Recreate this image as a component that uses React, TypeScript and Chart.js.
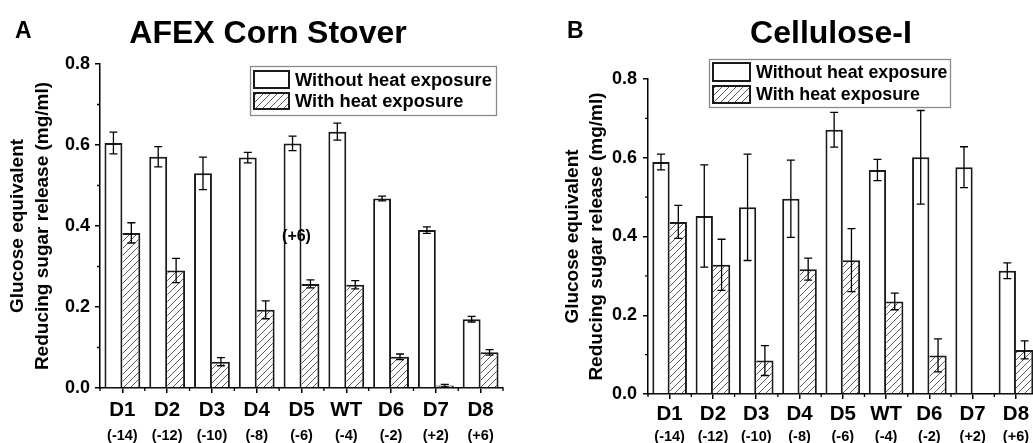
import React, { useEffect, useRef } from 'react';
import { Chart, registerables } from 'chart.js';

Chart.register(...registerables);

const FONT = '"Liberation Sans", Arial, Helvetica, sans-serif';

// ---------------- data ----------------
const categories = ['D1', 'D2', 'D3', 'D4', 'D5', 'WT', 'D6', 'D7', 'D8'];
const chargeShifts = ['(-14)', '(-12)', '(-10)', '(-8)', '(-6)', '(-4)', '(-2)', '(+2)', '(+6)'];
const seriesLabels = ['Without heat exposure', 'With heat exposure'];
const yTicks = [0.0, 0.2, 0.4, 0.6, 0.8];
const yMinorTicks = [0.1, 0.3, 0.5, 0.7];
const yAxisTitle = ['Glucose equivalent', 'Reducing sugar release (mg/ml)'];

const afexWithout = [0.605, 0.571, 0.530, 0.569, 0.604, 0.633, 0.468, 0.390, 0.170];
const afexWithoutErr = [0.027, 0.025, 0.040, 0.013, 0.018, 0.021, 0.006, 0.008, 0.007];
const afexWith = [0.383, 0.290, 0.065, 0.193, 0.257, 0.255, 0.077, 0.006, 0.088];
const afexWithErr = [0.025, 0.030, 0.010, 0.022, 0.010, 0.010, 0.007, 0.003, 0.007];

const celWithout = [0.589, 0.452, 0.474, 0.496, 0.671, 0.569, 0.601, 0.576, 0.313];
const celWithoutErr = [0.020, 0.130, 0.135, 0.098, 0.044, 0.027, 0.119, 0.052, 0.020];
const celWith = [0.437, 0.328, 0.085, 0.317, 0.340, 0.235, 0.098, null, 0.112];
const celWithErr = [0.042, 0.065, 0.038, 0.028, 0.080, 0.021, 0.042, null, 0.023];

// ---------------- plugins ----------------
const errorBarPlugin = {
  id: 'errorBars',
  afterDatasetsDraw(chart: any, _a: any, opts: any) {
    const { ctx } = chart;
    const yScale = chart.scales.y;
    ctx.save();
    ctx.strokeStyle = '#000';
    ctx.lineWidth = 1.3;
    chart.data.datasets.forEach((ds: any, di: number) => {
      const meta = chart.getDatasetMeta(di);
      const errs = opts.errors[di];
      meta.data.forEach((bar: any, i: number) => {
        const v = ds.data[i];
        const e = errs[i];
        if (v == null || e == null) return;
        const x = bar.x;
        const yt = yScale.getPixelForValue(v + e);
        const yb = yScale.getPixelForValue(v - e);
        ctx.beginPath();
        ctx.moveTo(x, yt);
        ctx.lineTo(x, yb);
        ctx.moveTo(x - 4, yt);
        ctx.lineTo(x + 4, yt);
        ctx.moveTo(x - 4, yb);
        ctx.lineTo(x + 4, yb);
        ctx.stroke();
      });
    });
    ctx.restore();
  },
};

const minorTickPlugin = {
  id: 'minorTicks',
  afterDraw(chart: any, _a: any, opts: any) {
    const { ctx } = chart;
    const y = chart.scales.y;
    const x = chart.scales.x;
    ctx.save();
    ctx.strokeStyle = '#000';
    ctx.lineWidth = 1.3;
    ctx.beginPath();
    opts.yValues.forEach((v: number) => {
      const py = y.getPixelForValue(v);
      ctx.moveTo(y.right - opts.length, py);
      ctx.lineTo(y.right, py);
    });
    const n = categories.length;
    const p0 = x.getPixelForValue(0);
    const step = x.getPixelForValue(1) - p0;
    for (let i = 0; i <= n; i++) {
      const px = p0 - step / 2 + step * i;
      ctx.moveTo(px, x.top);
      ctx.lineTo(px, x.top + opts.length);
    }
    ctx.stroke();
    ctx.restore();
  },
};

const boxLegendPlugin = {
  id: 'boxLegend',
  afterDraw(chart: any, _a: any, opts: any) {
    const { ctx } = chart;
    const [bx, by, bw, bh] = opts.box;
    ctx.save();
    ctx.fillStyle = '#fff';
    ctx.fillRect(bx, by, bw, bh);
    ctx.strokeStyle = '#8a8a8a';
    ctx.lineWidth = 1.3;
    ctx.strokeRect(bx + 0.5, by + 0.5, bw, bh);
    chart.data.datasets.forEach((ds: any, i: number) => {
      const [sx, sy, sw, sh] = opts.swatches[i];
      ctx.fillStyle = ds.backgroundColor;
      ctx.fillRect(sx, sy, sw, sh);
      ctx.strokeStyle = '#1a1a1a';
      ctx.lineWidth = 2;
      ctx.strokeRect(sx + 1, sy + 1, sw - 2, sh - 2);
      ctx.fillStyle = '#000';
      ctx.font = `bold ${opts.fontSize}px ${FONT}`;
      ctx.textBaseline = 'middle';
      ctx.textAlign = 'left';
      ctx.fillText(ds.label, opts.textX, sy + sh / 2 + 1);
    });
    ctx.restore();
  },
};

const panelTextPlugin = {
  id: 'panelText',
  afterDraw(chart: any, _a: any, opts: any) {
    const { ctx } = chart;
    ctx.save();
    ctx.fillStyle = '#000';
    opts.items.forEach((t: any) => {
      ctx.font = t.font;
      ctx.textAlign = t.align;
      ctx.textBaseline = 'alphabetic';
      ctx.fillText(t.text, t.x, t.y);
    });
    if (opts.note) {
      const n = opts.note;
      const px = chart.scales.x.getPixelForValue(n.index) + n.dx;
      const py = chart.scales.y.getPixelForValue(n.value);
      ctx.font = n.font;
      ctx.textAlign = 'center';
      ctx.textBaseline = 'middle';
      ctx.fillText(n.text, px, py);
    }
    ctx.restore();
  },
};

function makeHatch(): any {
  const s = 7;
  const c = document.createElement('canvas');
  c.width = s;
  c.height = s;
  const g = c.getContext('2d')!;
  g.fillStyle = '#fff';
  g.fillRect(0, 0, s, s);
  g.strokeStyle = '#5a5a5a';
  g.lineWidth = 1;
  g.beginPath();
  g.moveTo(-1, s + 1);
  g.lineTo(s + 1, -1);
  g.moveTo(-1, 1);
  g.lineTo(1, -1);
  g.moveTo(s - 1, s + 1);
  g.lineTo(s + 1, s - 1);
  g.stroke();
  return g.createPattern(c, 'repeat');
}

// ---------------- panel config ----------------
interface PanelSpec {
  left: number;
  width: number;
  height: number;
  without: (number | null)[];
  withHeat: (number | null)[];
  withoutErr: (number | null)[];
  withErr: (number | null)[];
  padTop: number;
  padRight: number;
  yWidth: number;
  yTickPad: number;
  yTitlePad: number;
  yTitleLH: number;
  x1Height: number;
  x1Pad: number;
  x2Height: number;
  x2Pad: number;
  legendBox: number[];
  swatches: number[][];
  legendTextX: number;
  legendFont: number;
  texts: any[];
  note?: any;
}

function buildConfig(p: PanelSpec, hatch: any): any {
  return {
    type: 'bar',
    data: {
      labels: categories,
      datasets: [
        {
          label: seriesLabels[0],
          data: p.without,
          backgroundColor: '#ffffff',
          borderColor: '#1a1a1a',
          borderWidth: { top: 2, left: 2, right: 2, bottom: 0 },
          borderSkipped: false,
          categoryPercentage: 0.8,
          barPercentage: 1,
        },
        {
          label: seriesLabels[1],
          data: p.withHeat,
          backgroundColor: hatch,
          borderColor: '#1a1a1a',
          borderWidth: { top: 2, left: 0, right: 2, bottom: 0 },
          borderSkipped: false,
          categoryPercentage: 0.8,
          barPercentage: 1,
        },
      ],
    },
    options: {
      responsive: false,
      animation: false,
      events: [],
      layout: { padding: { left: 0, top: p.padTop, right: p.padRight, bottom: 0 } },
      plugins: {
        legend: { display: false },
        tooltip: { enabled: false },
        title: { display: false },
        errorBars: { errors: [p.withoutErr, p.withErr] },
        minorTicks: { yValues: yMinorTicks, length: 3 },
        boxLegend: { box: p.legendBox, swatches: p.swatches, textX: p.legendTextX, fontSize: p.legendFont },
        panelText: { items: p.texts, note: p.note },
      },
      scales: {
        x: {
          type: 'category',
          position: 'bottom',
          weight: 0,
          offset: true,
          grid: {
            display: true,
            offset: false,
            drawOnChartArea: false,
            drawTicks: true,
            tickLength: 5,
            color: '#000',
            lineWidth: 1.5,
          },
          border: { display: true, color: '#000', width: 1.5 },
          ticks: {
            autoSkip: false,
            maxRotation: 0,
            minRotation: 0,
            padding: p.x1Pad,
            color: '#000',
            font: { family: FONT, size: 20.5, weight: 'bold' },
          },
          afterFit: (s: any) => {
            s.height = p.x1Height;
          },
        },
        x2: {
          type: 'category',
          position: 'bottom',
          weight: 1,
          offset: true,
          labels: chargeShifts,
          grid: { display: false, drawTicks: false },
          border: { display: false },
          ticks: {
            autoSkip: false,
            maxRotation: 0,
            minRotation: 0,
            padding: p.x2Pad,
            color: '#000',
            font: { family: FONT, size: 14.5, weight: 'bold' },
          },
          afterFit: (s: any) => {
            s.height = p.x2Height;
          },
        },
        y: {
          type: 'linear',
          position: 'left',
          min: 0,
          max: 0.8,
          grid: {
            display: true,
            drawOnChartArea: false,
            drawTicks: true,
            tickLength: 5,
            color: '#000',
            lineWidth: 1.5,
          },
          border: { display: true, color: '#000', width: 1.5 },
          afterBuildTicks: (s: any) => {
            s.ticks = yTicks.map((v) => ({ value: v }));
          },
          ticks: {
            padding: p.yTickPad,
            color: '#000',
            font: { family: FONT, size: 18, weight: 'bold' },
            callback: (v: any) => Number(v).toFixed(1),
          },
          title: {
            display: true,
            text: yAxisTitle,
            color: '#000',
            font: { family: FONT, size: 19, weight: 'bold', lineHeight: p.yTitleLH },
            padding: { top: p.yTitlePad, bottom: 0 },
          },
          afterFit: (s: any) => {
            s.width = p.yWidth;
          },
        },
      },
    },
    plugins: [errorBarPlugin, minorTickPlugin, boxLegendPlugin, panelTextPlugin],
  };
}

const panelA: PanelSpec = {
  left: 0,
  width: 515,
  height: 443,
  without: afexWithout,
  withHeat: afexWith,
  withoutErr: afexWithoutErr,
  withErr: afexWithErr,
  padTop: 64,
  padRight: 12,
  yWidth: 100,
  yTickPad: 5,
  yTitlePad: 5.5,
  yTitleLH: 25 / 19,
  x1Height: 34,
  x1Pad: 5,
  x2Height: 21,
  x2Pad: 5.3,
  legendBox: [250, 66, 246, 49],
  swatches: [
    [253, 70, 37, 19],
    [253, 92, 37, 18],
  ],
  legendTextX: 295,
  legendFont: 18.3,
  texts: [
    { text: 'A', x: 15, y: 37.5, font: `bold 23px ${FONT}`, align: 'left' },
    { text: 'AFEX Corn Stover', x: 268, y: 43, font: `bold 32px ${FONT}`, align: 'center' },
  ],
  note: { text: '(+6)', index: 4, dx: -5, value: 0.373, font: `bold 16px ${FONT}` },
};

const panelB: PanelSpec = {
  left: 515,
  width: 530,
  height: 443,
  without: celWithout,
  withHeat: celWith,
  withoutErr: celWithoutErr,
  withErr: celWithErr,
  padTop: 79,
  padRight: 7.4,
  yWidth: 133,
  yTickPad: 6,
  yTitlePad: 46,
  yTitleLH: 24 / 19,
  x1Height: 30,
  x1Pad: 3,
  x2Height: 19,
  x2Pad: 4.3,
  legendBox: [194, 59, 241, 48],
  swatches: [
    [197, 62, 39, 20],
    [197, 85, 39, 19],
  ],
  legendTextX: 241,
  legendFont: 17.8,
  texts: [
    { text: 'B', x: 52, y: 37.5, font: `bold 23px ${FONT}`, align: 'left' },
    { text: 'Cellulose-I', x: 316, y: 43, font: `bold 32px ${FONT}`, align: 'center' },
  ],
};

function Panel({ spec }: { spec: PanelSpec }) {
  const ref = useRef<HTMLCanvasElement>(null);
  useEffect(() => {
    const hatch = makeHatch();
    const chart = new Chart(ref.current as HTMLCanvasElement, buildConfig(spec, hatch));
    return () => chart.destroy();
  }, [spec]);
  return (
    <canvas
      ref={ref}
      width={spec.width}
      height={spec.height}
      style={{ position: 'absolute', left: spec.left, top: 0, width: spec.width, height: spec.height }}
    />
  );
}

export default function App() {
  return (
    <div
      style={{
        position: 'fixed',
        left: 0,
        top: 0,
        width: 1033,
        height: 443,
        overflow: 'hidden',
        background: '#fff',
      }}
    >
      <Panel spec={panelA} />
      <Panel spec={panelB} />
    </div>
  );
}
